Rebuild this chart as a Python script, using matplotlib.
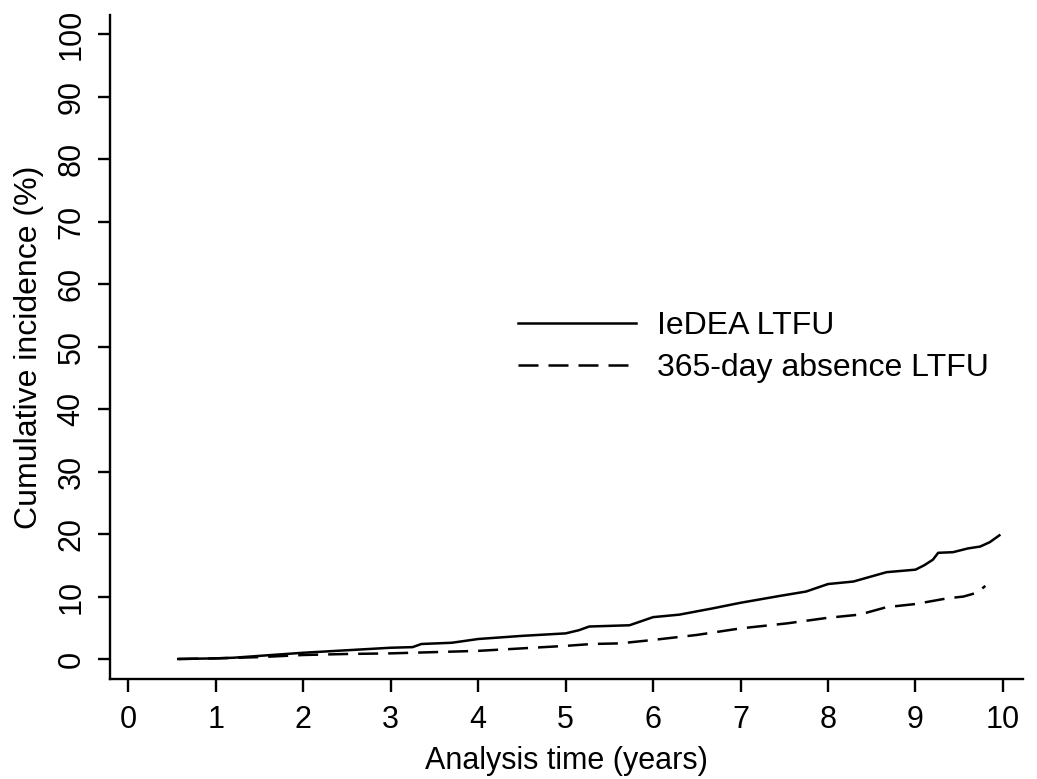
import matplotlib
matplotlib.use("Agg")
import matplotlib.pyplot as plt

# IeDEA LTFU (solid)
t_iedea = [0.57, 1.0, 1.2, 1.5, 2.0, 2.5, 3.0, 3.25, 3.35, 3.7, 4.0, 4.5, 5.0, 5.15, 5.27,
           5.5, 5.73, 6.0, 6.3, 6.68, 7.0, 7.45, 7.75, 8.0, 8.29, 8.67, 9.0, 9.1, 9.2, 9.26,
           9.43, 9.6, 9.74, 9.85, 9.96]
y_iedea = [0.0, 0.1, 0.2, 0.5, 1.0, 1.4, 1.8, 1.9, 2.4, 2.6, 3.2, 3.7, 4.1, 4.6, 5.2,
           5.3, 5.4, 6.7, 7.1, 8.1, 9.0, 10.1, 10.8, 12.0, 12.4, 13.9, 14.3, 15.0, 15.9, 17.0,
           17.1, 17.7, 18.0, 18.7, 19.8]

# 365-day absence LTFU (dashed)
t_abs = [0.57, 1.0, 1.5, 2.0, 2.5, 3.0, 3.5, 4.0, 4.5, 5.0, 5.3, 5.62, 6.0, 6.5, 7.0, 7.53,
         8.0, 8.36, 8.67, 9.0, 9.36, 9.55, 9.7, 9.80]
y_abs = [0.0, 0.1, 0.3, 0.64, 0.8, 0.9, 1.1, 1.3, 1.7, 2.1, 2.4, 2.5, 3.05, 3.85, 4.9, 5.7,
         6.6, 7.1, 8.3, 8.8, 9.7, 10.0, 10.6, 11.7]

x_ticks = list(range(0, 11))
y_ticks = list(range(0, 101, 10))

plt.rcParams['font.family'] = ['Liberation Sans', 'DejaVu Sans']
FS = 22

fig = plt.figure(figsize=(10.37, 7.79), dpi=100)
ax = fig.add_axes([0.1061, 0.1284, 0.8804, 0.8523])

ax.plot(t_iedea, y_iedea, color='black', lw=1.8, label='IeDEA LTFU')
ax.plot(t_abs, y_abs, color='black', lw=1.8, dashes=(8, 4), label='365-day absence LTFU')

ax.set_xlim(-0.21, 10.23)
ax.set_ylim(-3.2, 103.1)
ax.set_xticks(x_ticks)
ax.set_yticks(y_ticks)
for s in ['top', 'right']:
    ax.spines[s].set_visible(False)
for s in ['left', 'bottom']:
    ax.spines[s].set_linewidth(1.7)
ax.tick_params(direction='out', length=9, width=1.7, labelsize=FS, colors='black')
ax.tick_params(axis='x', pad=10)
ax.tick_params(axis='y', pad=8)
for lbl in ax.get_yticklabels():
    lbl.set_rotation(90)
    lbl.set_va('center')

ax.set_xlabel('Analysis time (years)', fontsize=FS, labelpad=8)
ax.set_ylabel('Cumulative incidence (%)', fontsize=23, labelpad=9)

leg = ax.legend(loc='center left', bbox_to_anchor=(0.447, 0.5), frameon=False, fontsize=23,
                handlelength=3.7, handletextpad=0.66, labelspacing=0.38,
                borderaxespad=0, borderpad=0)

fig.savefig('out.png', dpi=100)
